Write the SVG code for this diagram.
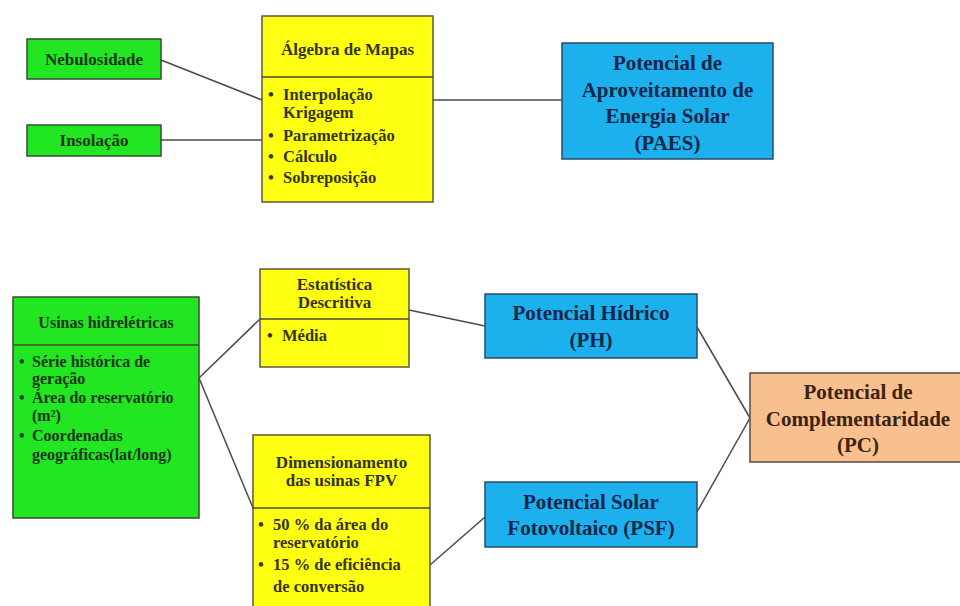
<svg xmlns="http://www.w3.org/2000/svg" width="960" height="606" viewBox="0 0 960 606">
<style>
text{font-family:"Liberation Serif","Times New Roman",serif;font-weight:bold}
.g{fill:#22e622;stroke:#3a4a3a;stroke-width:1.5}
.y{fill:#ffff14;stroke:#5a5a3a;stroke-width:1.5}
.b{fill:#1cb0ec;stroke:#2a4a6a;stroke-width:1.5}
.o{fill:#f8c08e;stroke:#5a4a40;stroke-width:1.5}
.tg{fill:#153515;font-size:16px}
.ty{fill:#34340c;font-size:16.5px}
.h{font-size:17px}
.tb{fill:#10264a;font-size:21px}
.to{fill:#3a2410;font-size:21px}
.div{stroke:#4a4a30;stroke-width:1.5}
.c{fill:none;stroke:#4a4a4a;stroke-width:1.5}
</style>
<rect width="960" height="606" fill="#ffffff"/>
<g id="connectors">
<line class="c" x1="161" y1="60" x2="262" y2="100"/>
<line class="c" x1="161" y1="140" x2="262" y2="140"/>
<line class="c" x1="433" y1="100" x2="562" y2="100"/>
<line class="c" x1="199" y1="378" x2="260" y2="319"/>
<line class="c" x1="199" y1="378" x2="253" y2="508"/>
<line class="c" x1="409" y1="310" x2="485" y2="326"/>
<line class="c" x1="430" y1="565" x2="485" y2="517"/>
<line class="c" x1="697" y1="327" x2="750" y2="418"/>
<line class="c" x1="697" y1="512" x2="750" y2="418"/>
</g>
<g id="nebulosidade">
<rect class="g" x="27" y="39" width="134" height="40"/>
<text class="tg h" x="94" y="65" text-anchor="middle">Nebulosidade</text>
</g>
<g id="insolacao">
<rect class="g" x="27" y="125" width="134" height="31"/>
<text class="tg h" x="94" y="146" text-anchor="middle">Insolação</text>
</g>
<g id="algebra">
<rect class="y" x="262" y="16" width="171" height="186"/>
<line class="div" x1="262" y1="77" x2="433" y2="77"/>
<text class="ty h" x="347.5" y="55" text-anchor="middle">Álgebra de Mapas</text>
<text class="ty" x="268" y="100">•</text><text class="ty" x="283" y="100">Interpolação</text>
<text class="ty" x="283" y="118">Krigagem</text>
<text class="ty" x="268" y="141">•</text><text class="ty" x="283" y="141">Parametrização</text>
<text class="ty" x="268" y="162">•</text><text class="ty" x="283" y="162">Cálculo</text>
<text class="ty" x="268" y="183">•</text><text class="ty" x="283" y="183">Sobreposição</text>
</g>
<g id="paes">
<rect class="b" x="562" y="43" width="211" height="116"/>
<text class="tb" x="667.5" y="70" text-anchor="middle">Potencial de</text>
<text class="tb" x="667.5" y="97" text-anchor="middle">Aproveitamento de</text>
<text class="tb" x="667.5" y="123" text-anchor="middle">Energia Solar</text>
<text class="tb" x="667.5" y="150" text-anchor="middle">(PAES)</text>
</g>
<g id="usinas">
<rect class="g" x="13" y="297" width="186" height="221"/>
<line class="div" x1="13" y1="345" x2="199" y2="345"/>
<text class="tg" x="106" y="328" text-anchor="middle">Usinas hidrelétricas</text>
<text class="tg" x="19" y="367">•</text><text class="tg" x="32" y="367">Série histórica de</text>
<text class="tg" x="32" y="384">geração</text>
<text class="tg" x="19" y="403">•</text><text class="tg" x="32" y="403">Área do reservatório</text>
<text class="tg" x="32" y="421">(m²)</text>
<text class="tg" x="19" y="441">•</text><text class="tg" x="32" y="441">Coordenadas</text>
<text class="tg" x="32" y="460">geográficas(lat/long)</text>
</g>
<g id="estatistica">
<rect class="y" x="260" y="269" width="149" height="98"/>
<line class="div" x1="260" y1="319" x2="409" y2="319"/>
<text class="ty h" x="334.5" y="290" text-anchor="middle">Estatística</text>
<text class="ty h" x="334.5" y="308" text-anchor="middle">Descritiva</text>
<text class="ty" x="267" y="341">•</text><text class="ty" x="282" y="341">Média</text>
</g>
<g id="dimensionamento">
<rect class="y" x="253" y="435" width="177" height="180"/>
<line class="div" x1="253" y1="508" x2="430" y2="508"/>
<text class="ty h" x="341.5" y="468" text-anchor="middle">Dimensionamento</text>
<text class="ty h" x="341.5" y="486" text-anchor="middle">das usinas FPV</text>
<text class="ty" x="258" y="530">•</text><text class="ty" x="273" y="530">50 % da área do</text>
<text class="ty" x="273" y="548">reservatório</text>
<text class="ty" x="258" y="570">•</text><text class="ty" x="273" y="570">15 % de eficiência</text>
<text class="ty" x="273" y="592">de conversão</text>
</g>
<g id="ph">
<rect class="b" x="485" y="294" width="212" height="64"/>
<text class="tb" x="591" y="320" text-anchor="middle">Potencial Hídrico</text>
<text class="tb" x="591" y="347" text-anchor="middle">(PH)</text>
</g>
<g id="psf">
<rect class="b" x="485" y="482" width="212" height="65"/>
<text class="tb" x="591" y="509" text-anchor="middle">Potencial Solar</text>
<text class="tb" x="591" y="535" text-anchor="middle">Fotovoltaico (PSF)</text>
</g>
<g id="pc">
<rect class="o" x="750" y="373" width="214" height="89"/>
<text class="to" x="858" y="399" text-anchor="middle">Potencial de</text>
<text class="to" x="858" y="426" text-anchor="middle">Complementaridade</text>
<text class="to" x="858" y="452" text-anchor="middle">(PC)</text>
</g>
</svg>
